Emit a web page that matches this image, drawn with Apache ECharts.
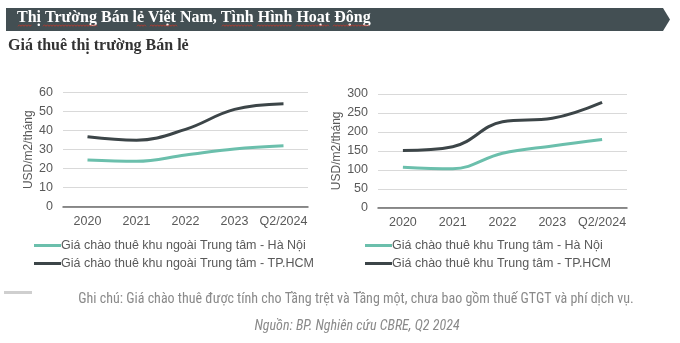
<!DOCTYPE html>
<html>
<head>
<meta charset="utf-8">
<script src="https://cdn.jsdelivr.net/npm/echarts@6/dist/echarts.min.js"></script>
<style>
  html, body { margin: 0; padding: 0; background: #fff; }
  #chart { width: 680px; height: 343px; }
</style>
</head>
<body>
<div id="chart"></div>
<script>
const years = ['2020', '2021', '2022', '2023', 'Q2/2024'];

// ngoài Trung tâm (USD/m2/tháng)
const outerHaNoi = [24.6, 23.9, 27.2, 30.4, 32.1];
const outerHCM = [36.8, 35, 40.7, 51.2, 54.2];

// khu Trung tâm (USD/m2/tháng)
const centerHaNoi = [107, 103, 143.5, 163, 180];
const centerHCM = [151, 161, 227, 236, 278];

const nameOuterHN = 'Giá chào thuê khu ngoài Trung tâm - Hà Nội';
const nameOuterHCM = 'Giá chào thuê khu ngoài Trung tâm - TP.HCM';
const nameCenterHN = 'Giá chào thuê khu Trung tâm - Hà Nội';
const nameCenterHCM = 'Giá chào thuê khu Trung tâm - TP.HCM';

const teal = '#6bbfac';
const dark = '#3c4548';
const textGray = '#595959';
const font = 'Liberation Sans, Arial, sans-serif';

const chart = echarts.init(document.getElementById('chart'));

function xAxis(gridIndex) {
  return {
    type: 'category', gridIndex, data: years,
    axisLine: { lineStyle: { color: '#6b6b6b', width: 1.5 } },
    axisTick: { show: false },
    axisLabel: { color: textGray, fontSize: 12.5, fontFamily: font, margin: 8, interval: 0 }
  };
}

function yAxis(gridIndex, max, interval, nameGap) {
  return {
    type: 'value', gridIndex, min: 0, max, interval,
    name: 'USD/m2/tháng', nameLocation: 'middle', nameRotate: 90, nameGap,
    nameTextStyle: { color: textGray, fontSize: 12, fontFamily: font },
    axisLine: { show: false },
    axisTick: { show: false },
    axisLabel: { color: textGray, fontSize: 12.5, fontFamily: font, margin: 10 },
    splitLine: { lineStyle: { color: '#d9d9d9', width: 1 } }
  };
}

function line(name, data, color, idx) {
  return {
    name, type: 'line', data, xAxisIndex: idx, yAxisIndex: idx,
    smooth: 0.4, showSymbol: false, symbol: 'none',
    lineStyle: { color, width: 3 }, itemStyle: { color }
  };
}

function legend(left, names) {
  return {
    orient: 'vertical', left, top: 234, itemGap: 5,
    icon: 'rect', itemWidth: 27, itemHeight: 3,
    textStyle: { color: textGray, fontSize: 12.5, fontFamily: font, padding: [0, 0, 0, -5] },
    data: names
  };
}

// red spell-check squiggle under a word in the header
function squiggle(x0, x1) {
  const pts = [];
  for (let x = x0, k = 0; x <= x1; x += 1.5, k++) pts.push([x, k % 2 ? 24.8 : 26.3]);
  return {
    type: 'polyline', silent: true, shape: { points: pts },
    style: { stroke: '#c0392b', lineWidth: 0.9, fill: null }
  };
}

const squiggleSpans = [[18, 32], [43, 97], [137, 147], [150, 177], [222, 253], [257, 292], [296, 330], [333, 370]];

chart.setOption({
  animation: false,
  grid: [
    { left: 63, top: 92.7, width: 245, height: 114 },
    { left: 378, top: 94, width: 249, height: 113.7 }
  ],
  xAxis: [xAxis(0), xAxis(1)],
  yAxis: [yAxis(0, 60, 10, 28), yAxis(1, 300, 50, 35)],
  legend: [
    legend(29, [nameOuterHN, nameOuterHCM]),
    legend(360, [nameCenterHN, nameCenterHCM])
  ],
  series: [
    line(nameOuterHN, outerHaNoi, teal, 0),
    line(nameOuterHCM, outerHCM, dark, 0),
    line(nameCenterHN, centerHaNoi, teal, 1),
    line(nameCenterHCM, centerHCM, dark, 1)
  ],
  graphic: [
    {
      type: 'polygon', silent: true,
      shape: { points: [[6, 8], [663, 8], [670, 19.5], [663, 31], [6, 31]] },
      style: { fill: '#434f53' }
    },
    {
      type: 'text', left: 17, top: 10,
      style: {
        text: 'Thị Trường Bán lẻ Việt Nam, Tình Hình Hoạt Động',
        fill: '#ffffff', font: 'bold 16px "Liberation Serif", "Times New Roman", serif'
      }
    },
    ...squiggleSpans.map(s => squiggle(s[0], s[1])),
    {
      type: 'text', left: 8, top: 38,
      style: {
        text: 'Giá thuê thị trường Bán lẻ',
        fill: '#333333', font: 'bold 16px "Liberation Serif", "Times New Roman", serif'
      }
    },
    {
      type: 'rect', silent: true,
      shape: { x: 4, y: 291, width: 28, height: 3 },
      style: { fill: '#cfcfcf' }
    },
    {
      type: 'text', x: 356, y: 299,
      style: {
        text: 'Ghi chú: Giá chào thuê được tính cho Tầng trệt và Tầng một, chưa bao gồm thuế GTGT và phí dịch vụ.',
        fill: '#8a8a8a', align: 'center', verticalAlign: 'middle',
        font: '14px "Liberation Sans Narrow", "Roboto Condensed", "Noto Sans", sans-serif'
      }
    },
    {
      type: 'text', x: 357, y: 326,
      style: {
        text: 'Nguồn: BP. Nghiên cứu CBRE, Q2 2024',
        fill: '#8a8a8a', align: 'center', verticalAlign: 'middle',
        font: 'italic 14px "Liberation Sans Narrow", "Roboto Condensed", "Noto Sans", sans-serif'
      }
    }
  ]
});
</script>
</body>
</html>
